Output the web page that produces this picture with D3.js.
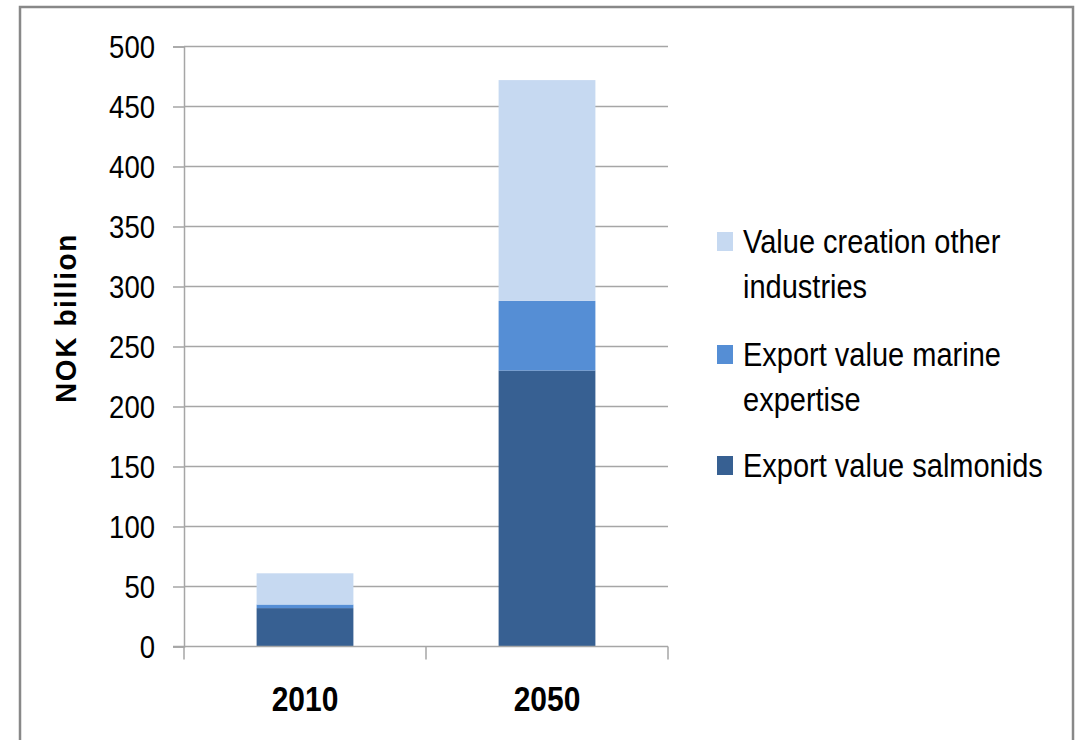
<!DOCTYPE html>
<html>
<head>
<meta charset="utf-8">
<script src="https://cdn.jsdelivr.net/npm/d3@7"></script>
<style>
  html, body { margin: 0; padding: 0; background: #fff; }
  svg text { font-family: "Liberation Sans", Arial, sans-serif; fill: #000; }
</style>
</head>
<body>
<svg id="chart" width="1082" height="740"></svg>
<script>
// Stacked values, NOK billion
const years = ["2010", "2050"];
const seriesNames = [
  "Export value salmonids",
  "Export value marine expertise",
  "Value creation other industries"
];
const salmonids = [32, 230];
const marineExpertise = [3, 58];
const otherIndustries = [26, 184];
const yTicks = [0, 50, 100, 150, 200, 250, 300, 350, 400, 450, 500];
const legendLines = [
  ["Value creation other", "industries"],
  ["Export value marine", "expertise"],
  ["Export value salmonids"]
];
const colors = ["#376092", "#558ED5", "#C6D9F1"];

const svg = d3.select("#chart");
const W = 1082, H = 740;
const plot = { left: 184, right: 668, top: 46.5, bottom: 646.5 };
const vStretch = 1.15;

// outer frame
svg.append("rect")
  .attr("x", 20).attr("y", 7)
  .attr("width", 1053).attr("height", 780)
  .attr("fill", "#fff")
  .attr("stroke", "#888").attr("stroke-width", 2.5);

const x = d3.scaleBand().domain(years).range([plot.left, plot.right]).padding(0);
const y = d3.scaleLinear().domain([0, 500]).range([plot.bottom, plot.top]);
const barW = x.bandwidth() * 0.4;

// horizontal gridlines + y axis
const yAxis = d3.axisLeft(y).tickValues(yTicks).tickSize(11).tickFormat("");
const gy = svg.append("g").attr("transform", `translate(${plot.left},0)`).call(yAxis);
gy.select(".domain").attr("stroke", "#a6a6a6").attr("stroke-width", 1.5);
gy.selectAll(".tick line").attr("stroke", "#a6a6a6").attr("stroke-width", 1.5);

svg.append("g").selectAll("line").data(yTicks.filter(d => d > 0)).join("line")
  .attr("x1", plot.left).attr("x2", plot.right)
  .attr("y1", d => y(d)).attr("y2", d => y(d))
  .attr("stroke", "#a6a6a6").attr("stroke-width", 1.5);

// tick labels (slightly tall, narrow face)
svg.append("g").selectAll("text").data(yTicks).join("text")
  .attr("transform", d => `translate(155,${y(d)}) scale(1,${vStretch})`)
  .attr("text-anchor", "end")
  .attr("dy", "0.36em")
  .style("font-size", "27.5px")
  .text(d => d);

// stacked bars
const table = years.map((yr, i) => ({
  year: yr,
  [seriesNames[0]]: salmonids[i],
  [seriesNames[1]]: marineExpertise[i],
  [seriesNames[2]]: otherIndustries[i]
}));
const stacked = d3.stack().keys(seriesNames)(table);

svg.append("g").selectAll("g").data(stacked).join("g")
  .attr("fill", (d, i) => colors[i])
  .selectAll("rect").data(d => d).join("rect")
  .attr("x", d => x(d.data.year) + (x.bandwidth() - barW) / 2)
  .attr("width", barW)
  .attr("y", d => y(d[1]))
  .attr("height", d => y(d[0]) - y(d[1]));

// x axis
const xAxisLine = svg.append("g");
xAxisLine.append("line")
  .attr("x1", plot.left - 11).attr("x2", plot.right)
  .attr("y1", plot.bottom).attr("y2", plot.bottom)
  .attr("stroke", "#a6a6a6").attr("stroke-width", 1.5);
const bandEdges = [plot.left, ...years.map(yr => x(yr) + x.bandwidth())];
xAxisLine.selectAll("line.tk").data(bandEdges).join("line")
  .attr("class", "tk")
  .attr("x1", d => d).attr("x2", d => d)
  .attr("y1", plot.bottom).attr("y2", plot.bottom + 13)
  .attr("stroke", "#a6a6a6").attr("stroke-width", 1.5);

svg.append("g").selectAll("text").data(years).join("text")
  .attr("transform", d => `translate(${x(d) + x.bandwidth() / 2},711) scale(1,${vStretch})`)
  .attr("text-anchor", "middle")
  .style("font-size", "30px")
  .style("font-weight", "bold")
  .text(d => d);

// y axis title
svg.append("text")
  .attr("transform", `translate(76,318) rotate(-90) scale(1,${vStretch * 0.92})`)
  .attr("text-anchor", "middle")
  .style("font-size", "28px")
  .style("font-weight", "bold")
  .style("letter-spacing", "1.6px")
  .text("NOK billion");

// legend (top entry = top of stack)
const legendTop = [241, 354, 465];
const legendColors = [colors[2], colors[1], colors[0]];
const lg = svg.append("g");
legendLines.forEach((lines, i) => {
  lg.append("rect")
    .attr("x", 717).attr("y", legendTop[i] - 9)
    .attr("width", 16).attr("height", 19)
    .attr("fill", legendColors[i]);
  lines.forEach((t, j) => {
    lg.append("text")
      .attr("transform", `translate(743,${legendTop[i] + j * 45}) scale(1,${vStretch})`)
      .attr("dy", "0.36em")
      .style("font-size", "29px")
      .text(t);
  });
});
</script>
</body>
</html>
